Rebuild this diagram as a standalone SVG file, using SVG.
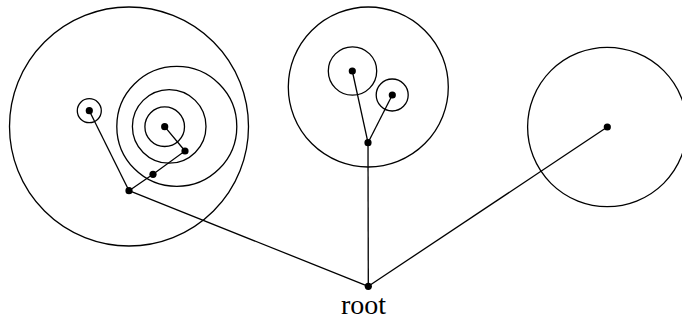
<svg xmlns="http://www.w3.org/2000/svg" width="682" height="320" viewBox="0 0 682 320">
<style>
.c{fill:none;stroke:#000;stroke-width:1.3}
.e{stroke:#000;stroke-width:1.3;fill:none}
.d{fill:#000}
.t{font-family:"Liberation Serif","DejaVu Serif",serif;font-size:28px;fill:#000}
</style>
<rect width="682" height="320" fill="#fff"/>
<g id="circles">
<circle class="c" cx="129" cy="126.5" r="119.5"/>
<circle class="c" cx="89.3" cy="110.7" r="12"/>
<circle class="c" cx="176.8" cy="126.4" r="60"/>
<circle class="c" cx="169.2" cy="126.4" r="36.8"/>
<circle class="c" cx="164.7" cy="126.7" r="19.8"/>
<circle class="c" cx="368.3" cy="87" r="80"/>
<circle class="c" cx="352.5" cy="71" r="24.2"/>
<circle class="c" cx="392.2" cy="95" r="16"/>
<circle class="c" cx="607.3" cy="127" r="79.7"/>
</g>
<g id="connectors">
<line class="e" x1="368.3" y1="286.3" x2="129" y2="190.7"/>
<line class="e" x1="368.3" y1="286.3" x2="368" y2="142.7"/>
<line class="e" x1="368.3" y1="286.3" x2="607.3" y2="127"/>
<line class="e" x1="129" y1="190.7" x2="89.3" y2="110.7"/>
<polyline class="e" points="129,190.7 153,174.3 185,151 164.7,126.7"/>
<line class="e" x1="368" y1="142.7" x2="352.3" y2="71"/>
<line class="e" x1="368" y1="142.7" x2="392.3" y2="95"/>
</g>
<g id="root"><circle class="d" cx="368.3" cy="286.3" r="3.6"/><text class="t" x="363.5" y="313.5" text-anchor="middle">root</text></g>
<g id="n1"><circle class="d" cx="129" cy="190.7" r="3.6"/></g>
<g id="n2"><circle class="d" cx="89.3" cy="110.7" r="3.6"/></g>
<g id="n3"><circle class="d" cx="153" cy="174.3" r="3.6"/></g>
<g id="n4"><circle class="d" cx="185" cy="151" r="3.6"/></g>
<g id="n5"><circle class="d" cx="164.7" cy="126.7" r="3.6"/></g>
<g id="n6"><circle class="d" cx="368" cy="142.7" r="3.6"/></g>
<g id="n7"><circle class="d" cx="352.3" cy="71" r="3.6"/></g>
<g id="n8"><circle class="d" cx="392.3" cy="95" r="3.6"/></g>
<g id="n9"><circle class="d" cx="607.3" cy="127" r="3.6"/></g>
</svg>
